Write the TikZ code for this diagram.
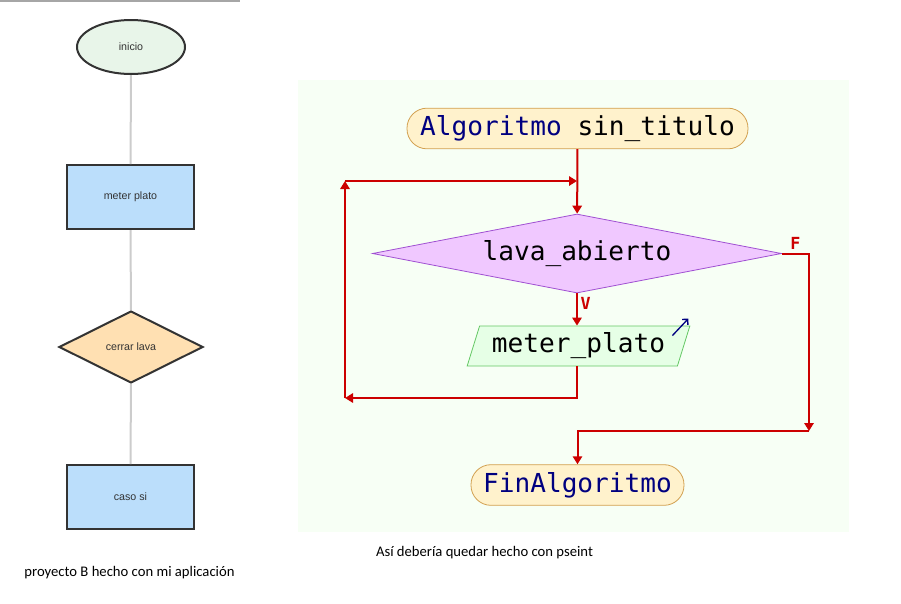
\documentclass[tikz,border=0pt]{standalone}
\usepackage{fontspec}
\setmainfont{Carlito}
\newfontfamily\psmono{DejaVu Sans Mono}
\newfontfamily\appsans{Liberation Sans}
\usepackage{tikz}
\usetikzlibrary{shapes.geometric, arrows.meta, positioning, calc}
\definecolor{appborder}{RGB}{51,51,51}
\definecolor{apptext}{RGB}{51,51,51}
\definecolor{appline}{RGB}{204,204,204}
\definecolor{appgreen}{RGB}{232,245,233}
\definecolor{appblue}{RGB}{187,222,251}
\definecolor{apporange}{RGB}{255,224,178}
\definecolor{psbg}{RGB}{247,255,245}
\definecolor{psred}{RGB}{204,0,0}
\definecolor{psnavy}{RGB}{0,0,128}
\definecolor{psterm}{RGB}{255,242,204}
\definecolor{pstermdraw}{RGB}{210,160,80}
\definecolor{pscond}{RGB}{240,200,255}
\definecolor{psconddraw}{RGB}{160,80,210}
\definecolor{psio}{RGB}{230,255,230}
\definecolor{psiodraw}{RGB}{100,200,100}

\begin{document}
\begin{tikzpicture}[x=0.75pt, y=-0.75pt,
  appnode/.style={draw=appborder, line width=1.5pt, text=apptext, font=\appsans\fontsize{8}{9}\selectfont},
  appstart/.style={appnode, ellipse, fill=appgreen, minimum width=81pt, minimum height=40.5pt},
  appproc/.style={appnode, rectangle, fill=appblue, minimum width=95pt, minimum height=48pt},
  appcond/.style={appnode, diamond, aspect=2, fill=apporange, minimum width=108pt, minimum height=54pt, inner sep=0pt},
  appline/.style={draw=appline, line width=1.5pt},
  psnode/.style={line width=0.6pt, font=\psmono\fontsize{19.6}{21}\selectfont, inner sep=0pt},
  psterminal/.style={psnode, rectangle, rounded corners=15pt, draw=pstermdraw, fill=psterm, minimum height=30.5pt},
  psdecision/.style={psnode, diamond, aspect=5.2, draw=psconddraw, fill=pscond, minimum width=306.75pt, minimum height=59.25pt},
  psoutput/.style={psnode, trapezium, trapezium left angle=64.6, trapezium right angle=115.4, trapezium stretches body, draw=psiodraw, fill=psio, minimum width=167pt, minimum height=30pt},
  psarr/.style={-{Triangle[length=6pt,width=7pt]}, line width=1.5pt, draw=psred},
  pslabel/.style={text=psred, font=\psmono\bfseries\fontsize{12.5}{13}\selectfont, inner sep=2pt},
  caption/.style={font=\fontsize{11}{13}\selectfont, text=black}
]
\useasboundingbox (0,0) rectangle (901,604);
\draw[draw=black!35, line width=1.5pt] (0,1) -- (240,1);

% diagram made with my app
\node[appstart] (inicio) at (131,47) {inicio};
\node[appproc] (meterplato) at (130.5,197) {meter plato};
\node[appcond] (cerrarlava) at (131,347) {cerrar lava};
\node[appproc] (casosi) at (130.5,497) {caso si};
\draw[appline] (inicio) -- (meterplato);
\draw[appline] (meterplato) -- (cerrarlava);
\draw[appline] (cerrarlava) -- (casosi);
\node[caption] (capapp) at (129.5,573) {proyecto B hecho con mi aplicación};

% same algorithm drawn by pseint
\fill[psbg] (298,80) rectangle (849,532);
\node[psterminal, minimum width=255.75pt] (algoritmo) at (577.5,128.5) {\textcolor{psnavy}{Algoritmo} sin\_titulo};
\node[psdecision] (lavaabierto) at (577,253.5) {lava\_abierto};
\node[psoutput] (meter) at (578.5,346) {meter\_plato};
\node[psterminal, minimum width=159.75pt] (finalg) at (577.5,485) {\textcolor{psnavy}{FinAlgoritmo}};
\coordinate (loopin) at (577,181);
\coordinate (looptop) at (345,181);
\coordinate (loopbot) at (345,398);
\coordinate (fright) at (809,253.5);
\coordinate (fdown) at (809,431);

\draw[psarr] (algoritmo) -- (lavaabierto);
\draw[psarr] (lavaabierto.south) -- node[pslabel, pos=0.3, right] {V} (lavaabierto.south |- meter.north);
\draw[psarr] (lavaabierto.south |- meter.south) |- (loopbot);
\draw[psarr] (loopbot) -- (looptop);
\draw[psarr] (looptop) -- (loopin);
\draw[psarr] (lavaabierto.east) -- node[pslabel, above] {F} (fright) -- (fdown);
\draw[psarr] (fdown) -| (finalg.north);
\draw[psnavy, line width=1pt, -{Straight Barb[length=3pt,width=6pt]}] ($(meter.top right corner)+(-18,10)$) -- ($(meter.top right corner)+(-2,-7)$);
\node[caption] (cappseint) at (484.5,553) {Así debería quedar hecho con pseint};
\end{tikzpicture}
\end{document}
